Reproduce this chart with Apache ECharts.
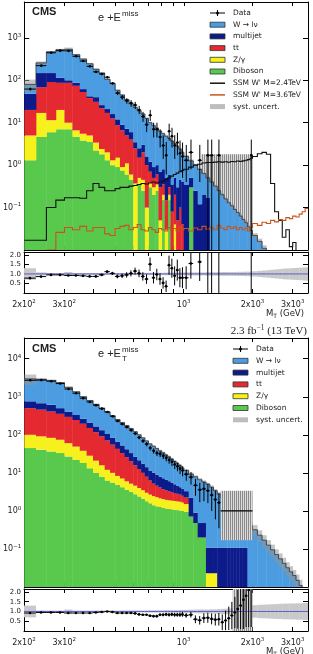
<!DOCTYPE html>
<html>
<head>
<meta charset="utf-8">
<script src="https://cdn.jsdelivr.net/npm/echarts@6/dist/echarts.min.js"></script>
<style>html,body{margin:0;padding:0;background:#fff}#c{width:313px;height:654px}</style>
</head>
<body>
<div id="c"></div>
<script>
// bin edges in GeV (25 GeV to 1 TeV, 50 GeV to 2 TeV, 100 GeV above)
var edges = [200,225,250,275,300,325,350,375,400,425,450,475,500,525,550,575,600,625,650,675,700,725,750,775,800,825,850,875,900,925,950,975,1000,1050,1100,1150,1200,1250,1300,1350,1400,1450,1500,1550,1600,1650,1700,1750,1800,1850,1900,1950,2000,2100,2200,2300,2400,2500,2600,2700,2800,2900,3000,3100,3200,3300,3400,3500];

// ---- top panel ----
var wjets1 = [32,109,320,410,437,313,254,203,142,122,84,67,46,36,27.8,22,19.5,16.5,13,11,8.8,7.6,6.4,5.6,4.7,4.3,3.7,3.35,2.7,2.5,1.95,1.6,1.25,0.76,0.75,0.67,0.43,0.33,0.4,0.32,0.25,0.2,0.16,0.13,0.11,0.09,0.076,0.063,0.052,0.044,0.035,0.029,0.022,0.016,0.011];
var multijet1 = [28,79,57,28,13,13,9,4,9,4,4,3.4,3.3,2.4,2.2,2,1.0,1.0,1.0,0.6,0.5,0.4,0.4,0.4,0.45,0.35,0.3,0.27,0.3,0.25,0.35,0.36,0.35,0.2,0.25,0.12,0.2,0.17];
var ttbar1 = [15,52,79.5,67,77,67.4,47.5,33,27.6,19.6,15,11.3,7.2,5.7,3.9,3.4,2.1,1.0,1.55,0.9,0.32,0.2,0.25,0.25,0.15,0.12,0.1,0.08,0.16,0.05,0.1,0.04];
var zgamma1 = [3.7,12.4,5.5,13,3,1.9,1.7,1.5,1.2,0.6,0.7,0.3,0.6,0.15,0.5,0.15,0.37,0.15,0.2,0.1,0.08,0.1,0.1,0.05,0.05,0.03,0.05,0,0.04];
var diboson1 = [1.3,4.6,6,7,7,4.7,3.8,3.5,2.2,1.8,1.3,1.0,0.9,0.75,0.6,0.45,0,0.35,0.25,0,0.3,0.2,0.25,0,0.15,0,0.15,0,0,0,0,0,0,0.3];
var syst1 = [0.3,0.08,0.05,0.05,0.1,0.05,0.05,0.05,0.05,0.05,0.05,0.05,0.05,0.05,0.05,0.05,0.06,0.06,0.06,0.06,0.06,0.06,0.06,0.06,0.06,0.07,0.07,0.07,0.07,0.07,0.07,0.07,0.08,0.08,0.08,0.08,0.08,0.09,0.09,0.09,0.09,0.1,0.1,0.1,0.1,0.1,0.11,0.11,0.11,0.12,0.12,0.12,0.14,0.16,0.18,0.2,0.22,0.24,0.26,0.28,0.29,0.3,0.31,0.32,0.33,0.34,0.35];
var ssm24 = [0.017,0.017,0.1,0.15,0.17,0.17,0.166,0.25,0.37,0.3,0.25,0.25,0.28,0.3,0.3,0.32,0.33,0.35,0.37,0.36,0.38,0.4,0.38,0.4,0.42,0.45,0.5,0.55,0.6,0.65,0.7,0.75,0.8,0.9,1.0,1.05,1.12,1.15,1.15,1.18,1.2,1.18,1.2,1.17,1.22,1.2,1.25,1.22,1.26,1.3,1.35,1.45,1.6,1.85,2.0,1.8,0.37,0.08,0.05,0.02,0.03,0.012,0.015,0.006,0.004,0.003,0.002];
var ssm36 = [0.004,0.005,0.01,0.026,0.034,0.03,0.036,0.028,0.034,0.034,0.024,0.022,0.032,0.036,0.038,0.03,0.034,0.04,0.03,0.028,0.034,0.03,0.026,0.032,0.03,0.028,0.034,0.03,0.032,0.028,0.035,0.03,0.032,0.028,0.033,0.03,0.036,0.031,0.034,0.03,0.038,0.033,0.03,0.036,0.032,0.035,0.03,0.034,0.03,0.033,0.028,0.034,0.042,0.038,0.045,0.042,0.05,0.046,0.052,0.05,0.058,0.055,0.063,0.06,0.07,0.08,0.095];
var dataBin1 = [0,1,2,3,4,5,6,7,8,9,10,11,12,13,14,15,16,17,18,19,20,21,22,23,24,25,26,27,28,29,30,31,32,33,35,37,38,40,51];
var dataY1 = [62,221,445,499,494,368,284,213,158,141,118,85,50,40,33,29,26,20,14,9,15,7,7,4.6,2.9,1.7,6.3,4.8,2.9,3.4,1.9,1.6,1.3,2.0,1.3,1.7,1.7,1.7,1.7];
var dataLo1 = [58,214,434,487,482,358,275,205,151,134,111,79,45,35,28,24,21,16,10.5,6,11,4.5,4.5,2.6,1.4,0.6,3.8,2.6,1.4,1.7,0.7,0.5,0.4,0.8,0.4,0.005,0.005,0.005,0.005];
var dataHi1 = [66,228,456,511,506,378,293,221,165,148,125,91,55,45,38,34,31,25,18,12.5,20,10,10,7,5,3.5,9.5,7.6,5.1,5.8,3.8,3.4,3.0,4.0,3.0,4.0,4.0,4.0,4.0];
var ratioY1 = [0.78,0.86,0.95,0.95,0.92,0.92,0.9,0.87,0.87,0.95,1.12,1.03,0.87,0.9,0.95,1.03,1.15,1.03,0.87,0.73,1.51,0.8,0.97,0.73,0.53,0.35,1.46,1.3,0.9,1.2,0.8,0.8,0.8,1.55,1.63,3.4,4.2,8.5,59];
var ratioErr1 = [0.05,0.03,0.03,0.03,0.03,0.03,0.04,0.04,0.05,0.05,0.07,0.08,0.1,0.12,0.14,0.16,0.18,0.2,0.22,0.25,0.35,0.3,0.3,0.3,0.3,0.3,0.5,0.5,0.5,0.55,0.5,0.55,0.6,0.8,1.0,3.4,4.2,8.5,59];
var emptyRange1 = [1190, 2000, 1.8];   // bins with no events: x from, x to, upper error

// ---- bottom panel ----
var wjets2 = [2191,2204,2073,1839,1333,1019,737,585,465,369,293,233,185,156,132,112,94,78.6,65.6,54.9,46,40,34.7,30.1,26.7,22.9,20.3,17.4,15,13.2,11.3,9.7,8.2,7.1,7.0,6.1,5.27,4.9,4.09,3.29,2.64,2.13,1.75,1.44,1.15,0.94,0.78,0.65,0.52,0.44,0.48,0.41,0.32,0.23,0.17,0.126,0.095,0.071,0.055,0.042,0.032,0.025,0.02,0.015,0.011];
var multijet2 = [258,219,210,146,112,86,68,58,49,41,34,28,23.4,19.4,16,13.1,10.5,8.8,7.4,6.2,5.2,4.8,4.3,3.8,3.5,3.1,2.8,2.4,2.05,1.78,1.5,1.3,1.06,1.49,0.41,0.28,0.28,0.084,0.084,0.084,0.107,0.107,0.107,0.107,0.107,0.107,0.107,0.107,0.107,0.107];
var ttbar2 = [401,366,324,281,235,196,157,123,96,75.4,58.8,45,34.4,26,19.7,14.8,11.2,8.6,6.5,4.9,3.6,2.75,2.3,2.0,1.66,1.52,1.34,1.24,1.13,1.04,0.96,0.84,0.73];
var zgamma2 = [55.3,50.5,46.9,41,33.4,27.1,19.8,15,10.9,7.9,5.7,4.5,3.5,2.9,2.4,2.0,1.85,1.6,1.4,1.2,1.1,1.04,0.98,0.88,0.84,0.8,0.78,0.76,0.75,0.73,0.72,0.66,0.56,0,0,0,0,0.023,0.023,0.023];
var diboson2 = [44.7,40.7,36.3,33.1,26.9,21.9,18.2,13.2,10,7.9,6.3,5.5,4.8,4.2,3.6,3.2,2.75,2.4,2.1,1.8,1.58,1.41,1.32,1.26,1.2,1.15,1.12,1.1,1.07,1.05,1.02,1.0,0.95,0.71,0.48,0.2,0.2];
var syst2 = [0.3,0.05,0.04,0.04,0.1,0.04,0.04,0.04,0.04,0.04,0.04,0.04,0.04,0.05,0.05,0.05,0.05,0.05,0.05,0.05,0.06,0.06,0.06,0.06,0.06,0.07,0.07,0.07,0.07,0.07,0.08,0.08,0.08,0.09,0.09,0.1,0.1,0.1,0.11,0.11,0.12,0.13,0.14,0.15,0.16,0.18,0.2,0.22,0.24,0.26,0.28,0.3,0.32,0.34,0.35,0.36,0.37,0.38,0.39,0.4,0.4,0.41,0.41,0.42,0.42,0.43,0.43];
var dataY2 = [2710,2740,2560,2220,1600,1240,920,730,600,486,398,306,231,192,160,133,108,85,69,57,45,38,33,31.5,28,25,21.8,19.5,16.6,14.8,12.9,11.5,9.2,7.7,4.7,3.6,3.8,3.4,2.6,2.0,1.65];
var dataErr2 = [50,50,50,45,40,35,30,27,24,22,20,17,15,14,13,12,10,9,8,7.5,6.5,6,5.5,5.5,5,5,4.5,4.4,4,3.8,3.6,3.4,3.0,2.8,2.2,1.9,2.0,1.8,1.6,1.4,1.3];
var ratioY2 = [0.92,0.95,0.95,0.95,0.92,0.92,0.92,0.92,0.95,0.97,1.0,0.97,0.92,0.92,0.92,0.92,0.9,0.85,0.83,0.83,0.78,0.76,0.76,0.83,0.83,0.85,0.83,0.85,0.83,0.83,0.83,0.85,0.8,0.83,0.6,0.55,0.66,0.68,0.62,0.58,0.6,0.45,0.54,0.65,0.79,0.95,1.12,1.3,1.6,1.8,2.1,2.4];
var ratioErr2 = [0.01,0.01,0.01,0.01,0.01,0.01,0.015,0.015,0.02,0.02,0.02,0.025,0.03,0.03,0.035,0.035,0.04,0.045,0.05,0.05,0.06,0.06,0.07,0.07,0.08,0.08,0.09,0.09,0.1,0.1,0.11,0.12,0.12,0.14,0.2,0.22,0.25,0.26,0.28,0.3,0.32,0.4,0.5,0.6,0.7,0.8,1.0,1.2,1.5,1.6,1.9,2.2];
var lowRange2 = [1450, 2000, 1.0, 0.17, 3.4];  // one-event region: x from, x to, value, lower, upper
var ratioStripe2 = [1640, 2000];

var xLabelVals = [200, 300, 1000, 2000, 3000];
var xTickVals = [200, 300, 400, 500, 600, 700, 800, 900, 1000, 2000, 3000];
var ratioTickVals = [0.5, 1, 1.5, 2];

var colors = {w: '#4b9ce0', mj: '#0d1a8a', tt: '#e42a30', zg: '#f6f01c', vv: '#59c94d', syst: '#bdbdbd'};

var stripe = document.createElement('canvas');
stripe.width = 2; stripe.height = 4;
var sc = stripe.getContext('2d');
sc.fillStyle = '#dcdcdc'; sc.fillRect(0, 0, 2, 4);
sc.fillStyle = '#8a8a8a'; sc.fillRect(0, 0, 1, 4);
var stripeFill = {image: stripe, repeat: 'repeat'};

function val(a, i) { return a[i] || 0; }
function nb() { return edges.length - 1; }

function stackSeries(comps, k, color, g, name) {
    var items = [];
    for (var i = 0; i < nb(); i++) {
        if (val(comps[k], i) > 0) items.push([(edges[i] + edges[i + 1]) / 2, val(comps[k], i), i]);
    }
    return {
        type: 'custom', name: name, xAxisIndex: 2 * g, yAxisIndex: 2 * g, z: 3, clip: true,
        encode: {x: 0, y: 1}, data: items,
        renderItem: function (params, api) {
            var i = api.value(2), below = 0;
            for (var j = 0; j < k; j++) below += val(comps[j], i);
            var top = below + val(comps[k], i);
            var a = api.coord([edges[i], below > 0 ? below : 1e-5]);
            var b = api.coord([edges[i + 1], top]);
            return {type: 'rect', shape: {x: a[0], y: b[1], width: b[0] - a[0] + 0.4, height: a[1] - b[1]},
                style: {fill: color}};
        }
    };
}

function totalOf(comps, i) {
    var t = 0;
    for (var j = 0; j < comps.length; j++) t += val(comps[j], i);
    return t;
}

function stepSeries(getter, g, color, width, z) {
    return {
        type: 'custom', xAxisIndex: 2 * g, yAxisIndex: 2 * g, z: z, clip: true,
        encode: {x: 0, y: 1}, data: [[1000, 1]],
        renderItem: function (params, api) {
            var pts = [];
            for (var i = 0; i < nb(); i++) {
                var v = getter(i);
                if (!(v > 0)) v = 1e-5;
                pts.push(api.coord([edges[i], v]), api.coord([edges[i + 1], v]));
            }
            return {type: 'polyline', shape: {points: pts}, style: {stroke: color, lineWidth: width, fill: null}};
        }
    };
}

function bandSeries(comps, syst, g, ratio) {
    var items = [];
    for (var i = 0; i < nb(); i++) {
        var t = totalOf(comps, i);
        if (ratio || t > 0) items.push([(edges[i] + edges[i + 1]) / 2, ratio ? 1 : t, i]);
    }
    return {
        type: 'custom', xAxisIndex: 2 * g, yAxisIndex: 2 * g, z: ratio ? 2 : 4, clip: true,
        encode: {x: 0, y: 1}, data: items,
        renderItem: function (params, api) {
            var i = api.value(2), c = api.value(1), s = syst[i];
            var a = api.coord([edges[i], c * (1 - s)]);
            var b = api.coord([edges[i + 1], c * (1 + s)]);
            return {type: 'rect', shape: {x: a[0], y: b[1], width: b[0] - a[0] + 0.3, height: a[1] - b[1]},
                style: {fill: ratio ? '#c9c9c9' : 'rgba(150,150,150,0.55)'}};
        }
    };
}

function stripeSeries(x0, x1, y0, y1, g, z) {
    return {
        type: 'custom', xAxisIndex: 2 * g, yAxisIndex: 2 * g, z: z, clip: true,
        encode: {x: 0, y: 1}, data: [[x0, y1]],
        renderItem: function (params, api) {
            var a = api.coord([x0, y0]), b = api.coord([x1, y1]);
            return {type: 'rect', shape: {x: a[0], y: b[1], width: b[0] - a[0], height: a[1] - b[1]},
                style: {fill: stripeFill}};
        }
    };
}

// points: [bin, y, lo, hi]
function pointSeries(items, g, z) {
    return {
        type: 'custom', xAxisIndex: 2 * g, yAxisIndex: 2 * g, z: z, clip: true,
        encode: {x: 0, y: 1},
        data: items.map(function (d) { return [(edges[d[0]] + edges[d[0] + 1]) / 2, d[1], d[2], d[3], d[0]]; }),
        renderItem: function (params, api) {
            var i = api.value(4), x = api.value(0), y = api.value(1);
            var c = api.coord([x, y]);
            var lo = api.coord([x, api.value(2) > 0 ? api.value(2) : 1e-5]);
            var hi = api.coord([x, api.value(3)]);
            var l = api.coord([edges[i], y]), r = api.coord([edges[i + 1], y]);
            return {type: 'group', children: [
                {type: 'line', shape: {x1: c[0], y1: lo[1], x2: c[0], y2: hi[1]}, style: {stroke: '#000', lineWidth: 1}},
                {type: 'line', shape: {x1: l[0], y1: c[1], x2: r[0], y2: c[1]}, style: {stroke: '#000', lineWidth: 1}},
                {type: 'circle', shape: {cx: c[0], cy: c[1], r: 1.3}, style: {fill: '#000'}}
            ]};
        }
    };
}

function xFmt(v) {
    var e = Math.floor(Math.log10(v) + 1e-9);
    var m = Math.round(v / Math.pow(10, e));
    return (m === 1 ? '{b|10}' : '{b|' + m + 'x10}') + '{s|' + e + '}';
}
function yFmt(v) {
    var l = Math.log10(v), e = Math.round(l);
    if (Math.abs(l - e) > 1e-6 || e < -1) return '';
    return '{b|10}{s|' + (e < 0 ? '\u2212' + (-e) : e) + '}';
}
var rich = {
    b: {fontSize: 8, fontFamily: 'DejaVu Sans', color: '#222', lineHeight: 11},
    s: {fontSize: 5.5, fontFamily: 'DejaVu Sans', color: '#222', verticalAlign: 'top', lineHeight: 6, padding: [0, 0, 3, 0]}
};

var grids = [
    {left: 24, top: 2, width: 284, height: 248},
    {left: 24, top: 252, width: 284, height: 41},
    {left: 24, top: 338, width: 284, height: 249},
    {left: 24, top: 589, width: 284, height: 42}
];
var line = {show: true, onZero: false, lineStyle: {color: '#000', width: 1}};
var xAxes = [], yAxes = [];
grids.forEach(function (gr, g) {
    var ratio = g % 2 === 1;
    ['bottom', 'top'].forEach(function (pos) {
        xAxes.push({
            type: 'log', gridIndex: g, position: pos, min: 200, max: 3500,
            axisLine: line,
            axisTick: {show: true, inside: true, length: 4, customValues: xTickVals, lineStyle: {color: '#000'}},
            axisLabel: {show: ratio && pos === 'bottom', customValues: xLabelVals, formatter: xFmt, rich: rich, margin: 6},
            splitLine: {show: false}
        });
    });
    ['left', 'right'].forEach(function (pos) {
        var ax = {
            gridIndex: g, position: pos, axisLine: line, splitLine: {show: false},
            axisTick: {show: true, inside: true, length: 5, lineStyle: {color: '#000'}}
        };
        if (ratio) {
            ax.type = 'value'; ax.min = 0; ax.max = 2.15;
            ax.axisTick.customValues = ratioTickVals;
            ax.axisLabel = {show: pos === 'left', customValues: ratioTickVals, margin: 3,
                formatter: function (v) { return v.toFixed(1); },
                fontSize: 7, fontFamily: 'DejaVu Sans', color: '#222'};
        } else {
            ax.type = 'log'; ax.min = 0.01; ax.max = g === 0 ? 7000 : 35000;
            ax.axisLabel = {show: pos === 'left', formatter: yFmt, rich: rich, margin: 3};
        }
        yAxes.push(ax);
    });
});

var comps1 = [diboson1, zgamma1, ttbar1, multijet1, wjets1];
var comps2 = [diboson2, zgamma2, ttbar2, multijet2, wjets2];
var compColors = [colors.vv, colors.zg, colors.tt, colors.mj, colors.w];
var compNames = ['Diboson', 'Z/\u03b3', 'tt', 'multijet', 'W \u2192 l\u03bd'];

var series = [];
// top panel
series.push(stripeSeries(emptyRange1[0], emptyRange1[1], 1e-5, emptyRange1[2], 0, 1));
comps1.forEach(function (c, k) { series.push(stackSeries(comps1, k, compColors[k], 0, compNames[k])); });
series.push(bandSeries(comps1, syst1, 0, false));
series.push(stepSeries(function (i) { return totalOf(comps1, i); }, 0, '#333', 0.8, 5));
series.push(stepSeries(function (i) { return ssm24[i]; }, 0, '#111', 1.1, 6));
series.push(stepSeries(function (i) { return ssm36[i]; }, 0, '#c4561c', 1.1, 6));
series.push(pointSeries(dataBin1.map(function (b, j) { return [b, dataY1[j], dataLo1[j], dataHi1[j]]; }), 0, 7));
series.push(bandSeries(comps1, syst1, 1, true));
series.push(stepSeries(function () { return 1; }, 1, '#5a5acb', 1, 3));
series.push(pointSeries(dataBin1.map(function (b, j) { return [b, ratioY1[j], ratioY1[j] - ratioErr1[j], ratioY1[j] + ratioErr1[j]]; }), 1, 7));
// bottom panel
comps2.forEach(function (c, k) { series.push(stackSeries(comps2, k, compColors[k], 2, compNames[k])); });
series.push(bandSeries(comps2, syst2, 2, false));
series.push(stepSeries(function (i) { return totalOf(comps2, i); }, 2, '#333', 0.8, 5));
series.push(stripeSeries(lowRange2[0], lowRange2[1], lowRange2[3], lowRange2[4], 2, 6));
series.push({
    type: 'custom', xAxisIndex: 4, yAxisIndex: 4, z: 7, clip: true, encode: {x: 0, y: 1},
    data: [[lowRange2[0], lowRange2[2]]],
    renderItem: function (params, api) {
        var a = api.coord([lowRange2[0], lowRange2[2]]), b = api.coord([lowRange2[1], lowRange2[2]]);
        return {type: 'line', shape: {x1: a[0], y1: a[1], x2: b[0], y2: b[1]}, style: {stroke: '#000', lineWidth: 1.2}};
    }
});
series.push(pointSeries(dataY2.map(function (y, i) { return [i, y, y - dataErr2[i], y + dataErr2[i]]; }), 2, 7));
series.push(bandSeries(comps2, syst2, 3, true));
series.push(stripeSeries(ratioStripe2[0], ratioStripe2[1], 0, 2.15, 3, 2));
series.push(stepSeries(function () { return 1; }, 3, '#5a5acb', 1, 3));
series.push(pointSeries(ratioY2.map(function (y, i) { return [i, y, y - ratioErr2[i], y + ratioErr2[i]]; }), 3, 7));

// legends and labels
var graphic = [];
function txt(x, y, text, opts) {
    var st = {text: text, fill: '#222', fontSize: 7.5, fontFamily: 'DejaVu Sans', verticalAlign: 'middle'};
    for (var k in opts) st[k] = opts[k];
    graphic.push({type: 'text', x: x, y: y, style: st, z: 100});
}
function legendRows(x, y0, step, rows) {
    rows.forEach(function (r, j) {
        var y = y0 + j * step;
        if (r.kind === 'box') {
            graphic.push({type: 'rect', shape: {x: x, y: y - 2.5, width: 15, height: 5},
                style: {fill: r.color, stroke: r.border ? '#333' : null, lineWidth: 0.8}, z: 100});
        } else if (r.kind === 'line') {
            graphic.push({type: 'line', shape: {x1: x, y1: y, x2: x + 15, y2: y}, style: {stroke: r.color, lineWidth: 1.5}, z: 100});
        } else {
            graphic.push({type: 'line', shape: {x1: x, y1: y, x2: x + 15, y2: y}, style: {stroke: '#000', lineWidth: 1}, z: 100});
            graphic.push({type: 'line', shape: {x1: x + 7.5, y1: y - 3, x2: x + 7.5, y2: y + 3}, style: {stroke: '#000', lineWidth: 1}, z: 100});
            graphic.push({type: 'circle', shape: {cx: x + 7.5, cy: y, r: 1.5}, style: {fill: '#000'}, z: 100});
        }
        txt(x + 23, y, r.label);
    });
}
var rows1 = [
    {kind: 'data', label: 'Data'},
    {kind: 'box', color: colors.w, border: true, label: 'W \u2192 l\u03bd'},
    {kind: 'box', color: colors.mj, border: true, label: 'multijet'},
    {kind: 'box', color: colors.tt, border: true, label: 'tt'},
    {kind: 'box', color: colors.zg, border: true, label: 'Z/\u03b3'},
    {kind: 'box', color: colors.vv, border: true, label: 'Diboson'},
    {kind: 'line', color: '#111', label: "SSM W' M=2.4TeV"},
    {kind: 'line', color: '#c4561c', label: "SSM W' M=3.6TeV"},
    {kind: 'box', color: colors.syst, label: 'syst. uncert.'}
];
legendRows(210, 13, 11.7, rows1);
legendRows(233, 349, 11.8, rows1.filter(function (r) { return r.kind !== 'line'; }));

var cmsFont = {fontFamily: 'Liberation Sans', fontWeight: 'bold', fontSize: 11};
txt(32, 12, 'CMS', cmsFont);
txt(32, 349, 'CMS', cmsFont);
var chanFont = {fontFamily: 'Liberation Sans', fontSize: 11};
var supFont = {fontFamily: 'Liberation Sans', fontSize: 8};
txt(98, 18, 'e +E', chanFont);
txt(122, 14, 'miss', supFont);
txt(98, 354, 'e +E', chanFont);
txt(122, 350, 'miss', supFont);
txt(122, 359, 'T', supFont);
txt(307, 331, '{a|2.3 fb}{s|\u22121}{a| (13 TeV)}', {align: 'right', rich: {
    a: {fontFamily: 'Liberation Serif', fontSize: 11, color: '#222', lineHeight: 13},
    s: {fontFamily: 'Liberation Serif', fontSize: 7.5, color: '#222', verticalAlign: 'top', lineHeight: 8, padding: [0, 0, 4, 0]}
}});
var mtRich = {
    a: {fontFamily: 'DejaVu Sans', fontSize: 8.5, color: '#222', lineHeight: 11},
    u: {fontFamily: 'DejaVu Sans', fontSize: 6, color: '#222', verticalAlign: 'bottom', lineHeight: 6}
};
txt(304, 314, '{a|M}{u|T}{a| (GeV)}', {align: 'right', rich: mtRich});
txt(304, 652, '{a|M}{u|T}{a| (GeV)}', {align: 'right', rich: mtRich});

var chart = echarts.init(document.getElementById('c'), null, {renderer: 'canvas'});
chart.setOption({
    animation: false,
    backgroundColor: '#fff',
    grid: grids,
    xAxis: xAxes,
    yAxis: yAxes,
    series: series,
    graphic: graphic
});
</script>
</body>
</html>
